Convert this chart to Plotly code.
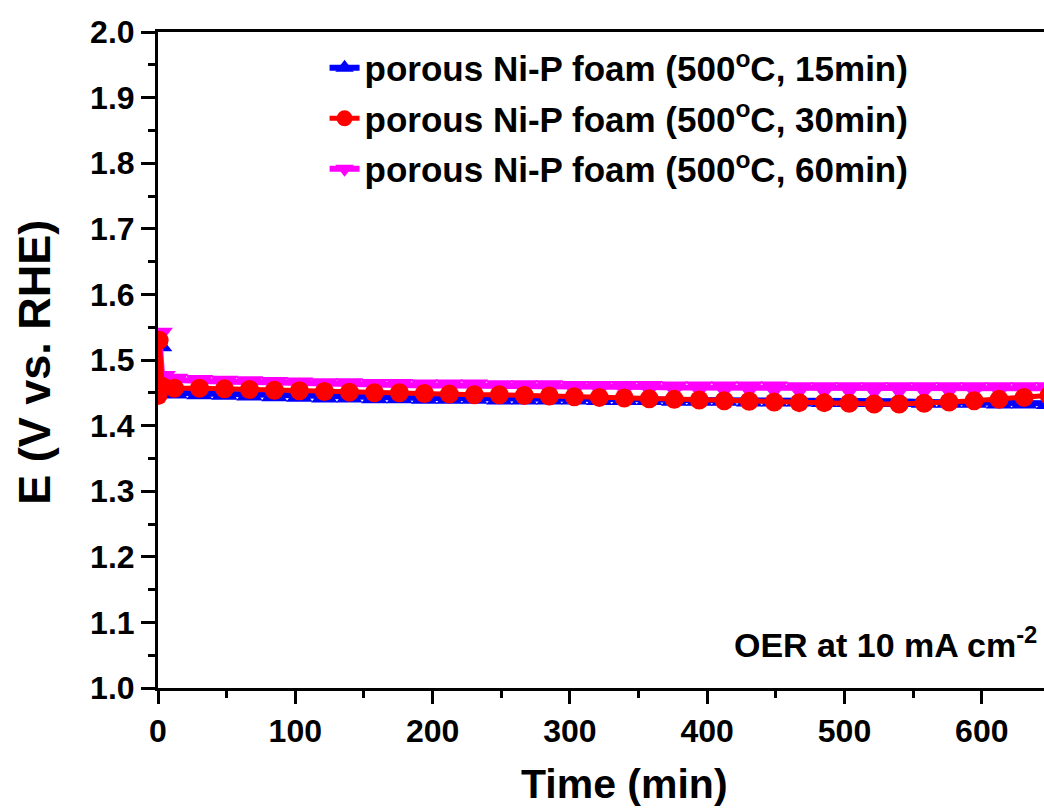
import plotly.graph_objects as go

# ---- data ----
time_min = [0, 0.8, 3.0, 12.0, 30.2, 48.4, 66.6, 84.8, 103.0, 121.2, 139.4, 157.6, 175.8,
            194.0, 212.2, 230.4, 248.6, 266.8, 285.0, 303.2, 321.4, 339.6, 357.8,
            376.0, 394.2, 412.4, 430.6, 448.8, 467.0, 485.2, 503.4, 521.6, 539.8,
            558.0, 576.2, 594.4, 612.6, 630.8, 649.0]

e_15min = [1.452, 1.522, 1.455, 1.450, 1.449, 1.448, 1.447, 1.446, 1.445, 1.444, 1.444,
           1.443, 1.443, 1.442, 1.442, 1.442, 1.441, 1.441, 1.441, 1.441, 1.440,
           1.440, 1.440, 1.439, 1.439, 1.439, 1.438, 1.438, 1.438, 1.437, 1.437,
           1.437, 1.437, 1.436, 1.436, 1.436, 1.435, 1.435, 1.434]

e_30min = [1.446, 1.530, 1.460, 1.457, 1.457, 1.456, 1.455, 1.454, 1.453, 1.452, 1.451,
           1.450, 1.450, 1.449, 1.448, 1.447, 1.447, 1.446, 1.445, 1.444, 1.443,
           1.442, 1.441, 1.440, 1.439, 1.438, 1.437, 1.436, 1.435, 1.435, 1.434,
           1.433, 1.433, 1.434, 1.436, 1.438, 1.440, 1.443, 1.446]

e_60min = [1.460, 1.540, 1.474, 1.470, 1.468, 1.467, 1.466, 1.465, 1.464, 1.463, 1.463,
           1.462, 1.462, 1.461, 1.461, 1.461, 1.460, 1.460, 1.460, 1.459, 1.459,
           1.459, 1.459, 1.458, 1.458, 1.458, 1.458, 1.458, 1.457, 1.457, 1.457,
           1.457, 1.457, 1.457, 1.457, 1.457, 1.457, 1.457, 1.457]

names = ["porous Ni-P foam (500<sup>o</sup>C, 15min)",
         "porous Ni-P foam (500<sup>o</sup>C, 30min)",
         "porous Ni-P foam (500<sup>o</sup>C, 60min)"]

FONT = "Arial, Liberation Sans, sans-serif"

fig = go.Figure()
# draw order: blue, magenta, red (red on top); legend order 15,30,60
fig.add_trace(go.Scatter(x=time_min, y=e_15min, mode="lines+markers", name=names[0],
                         line=dict(color="#0000FF", width=6),
                         marker=dict(symbol="triangle-up", size=23, color="#0000FF"),
                         legendgroup="a", legendrank=1))
fig.add_trace(go.Scatter(x=time_min, y=e_60min, mode="lines+markers", name=names[2],
                         line=dict(color="#FF00FF", width=6),
                         marker=dict(symbol="triangle-down", size=24, color="#FF00FF"),
                         legendgroup="c", legendrank=3))
fig.add_trace(go.Scatter(x=time_min, y=e_30min, mode="lines+markers", name=names[1],
                         line=dict(color="#FF0000", width=5),
                         marker=dict(symbol="circle", size=19, color="#FF0000"),
                         legendgroup="b", legendrank=2))

axis_common = dict(showline=True, linecolor="black", linewidth=3, ticks="outside",
                   tickwidth=3, tickcolor="black", showgrid=False, zeroline=False,
                   tickfont=dict(family=FONT, size=32, color="black", weight="bold"))

fig.update_xaxes(range=[0, 645.3], dtick=100, tick0=0, ticklen=13, mirror=True,
                 minor=dict(dtick=50, ticklen=7, tickwidth=3, tickcolor="black", ticks="outside"),
                 **axis_common)
fig.update_yaxes(range=[1.0, 2.0], dtick=0.1, tick0=1.0, tickformat=".1f", ticklen=14,
                 mirror=False,
                 minor=dict(dtick=0.05, ticklen=7, tickwidth=3, tickcolor="black", ticks="outside"),
                 **axis_common)

fig.update_layout(
    width=1044, height=811,
    margin=dict(l=158, r=0, t=32, b=123, autoexpand=False),
    paper_bgcolor="white", plot_bgcolor="white",
    showlegend=True,
    legend=dict(x=0.188, y=0.99, xanchor="left", yanchor="top",
                bgcolor="rgba(0,0,0,0)", borderwidth=0,
                traceorder="grouped", tracegroupgap=2,
                font=dict(family=FONT, size=35, color="black", weight="bold")),
    annotations=[
        dict(text="OER at 10 mA cm<sup>-2</sup>", xref="paper", yref="paper",
             x=0.994, y=0.069, xanchor="right", yanchor="middle", showarrow=False,
             font=dict(family=FONT, size=34, color="black", weight="bold")),
        dict(text="Time (min)", xref="paper", yref="paper",
             x=0.527, y=-0.146, xanchor="center", yanchor="middle", showarrow=False,
             font=dict(family=FONT, size=41, color="black", weight="bold")),
        dict(text="E (V vs. RHE)", xref="paper", yref="paper", textangle=-90,
             x=-0.139, y=0.497, xanchor="center", yanchor="middle", showarrow=False,
             font=dict(family=FONT, size=45, color="black", weight="bold")),
    ],
)

fig.write_html("out.html")
